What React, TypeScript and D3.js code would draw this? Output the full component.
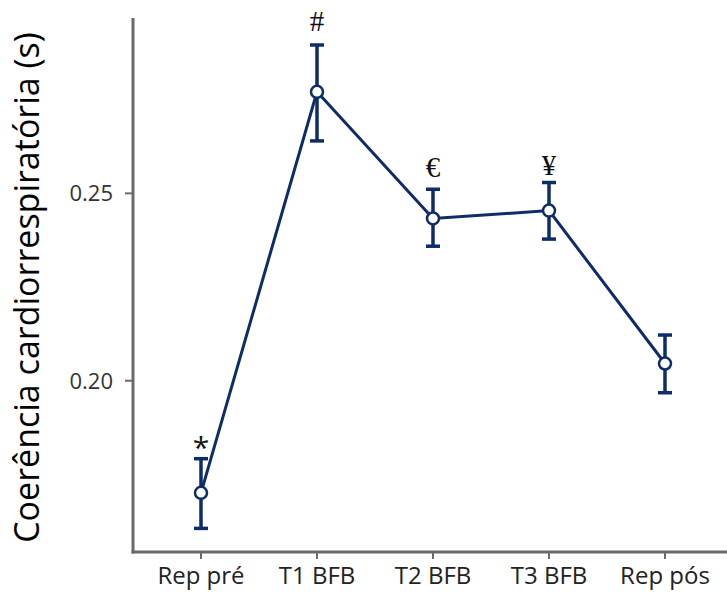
import React from 'react';
import * as d3 from 'd3';

// values
const categories = ['Rep pré', 'T1 BFB', 'T2 BFB', 'T3 BFB', 'Rep pós'];
const means = [0.1701, 0.2771, 0.2433, 0.2454, 0.2046];
const errHigh = [0.1792, 0.2896, 0.2511, 0.2529, 0.2122];
const errLow = [0.1606, 0.264, 0.2359, 0.2378, 0.1968];
const markers = ['*', '#', '€', '¥', ''];
const yTicks = [0.2, 0.25];

const width = 727;
const height = 592;
const axisX = 133;
const axisY = 552;
const navy = '#0f2c6a';
const axisColor = '#6a6a6a';

// gap between the top of the error bar and the marker baseline
const markerGap: Record<string, number> = { '*': 1, '#': 14, '€': 12, '¥': 8 };

const App: React.FC = () => {
  const x = d3.scalePoint<string>().domain(categories).range([201, 665]);
  const y = d3.scaleLinear().domain([0.1543, 0.2968]).range([axisY, 18]);
  const fmt = d3.format('.2f');

  const line = d3
    .line<number>()
    .x((_, i) => x(categories[i]) as number)
    .y(d => y(d));

  return (
    <svg
      width={width}
      height={height}
      style={{ position: 'absolute', left: 0, top: 0, background: '#fff' }}
    >
      {/* axes */}
      <line x1={axisX} x2={axisX} y1={y.range()[1]} y2={axisY + 1.5} stroke={axisColor} strokeWidth={3} />
      <line x1={axisX - 1.5} x2={width} y1={axisY} y2={axisY} stroke={axisColor} strokeWidth={3} />

      {yTicks.map(t => (
        <g key={t}>
          <line x1={axisX - 8} x2={axisX} y1={y(t)} y2={y(t)} stroke={axisColor} strokeWidth={2} />
          <text
            x={113}
            y={y(t)}
            dy="0.36em"
            textAnchor="end"
            fontFamily="Open Sans"
            fontSize={22}
            fill="#333"
          >
            {fmt(t)}
          </text>
        </g>
      ))}

      {categories.map(c => (
        <g key={c}>
          <line x1={x(c)} x2={x(c)} y1={axisY} y2={axisY + 7} stroke={axisColor} strokeWidth={2} />
          <text
            x={x(c)}
            y={584}
            textAnchor="middle"
            fontFamily="Open Sans"
            fontSize={24}
            fill="#222"
          >
            {c}
          </text>
        </g>
      ))}

      <text
        transform={`translate(39, ${(537 + 38) / 2}) rotate(-90)`}
        textAnchor="middle"
        fontFamily="Open Sans"
        fontSize={34}
        fill="#000"
      >
        Coerência cardiorrespiratória (s)
      </text>

      {/* error bars */}
      {categories.map((c, i) => {
        const cx = x(c) as number;
        return (
          <g key={'e' + c} stroke={navy} strokeWidth={3.5}>
            <line x1={cx} x2={cx} y1={y(errHigh[i])} y2={y(errLow[i])} />
            <line x1={cx - 7} x2={cx + 7} y1={y(errHigh[i])} y2={y(errHigh[i])} />
            <line x1={cx - 7} x2={cx + 7} y1={y(errLow[i])} y2={y(errLow[i])} />
          </g>
        );
      })}

      <path d={line(means) ?? ''} fill="none" stroke={navy} strokeWidth={3} />

      {categories.map((c, i) => (
        <circle key={'p' + c} cx={x(c)} cy={y(means[i])} r={6} fill="#fff" stroke={navy} strokeWidth={2.5} />
      ))}

      {/* significance markers */}
      {categories.map((c, i) =>
        markers[i] ? (
          <text
            key={'m' + c}
            x={x(c)}
            y={y(errHigh[i]) - markerGap[markers[i]]}
            textAnchor="middle"
            fontFamily={markers[i] === '*' ? 'Open Sans' : 'Liberation Serif'}
            fontSize={markers[i] === '*' ? 30 : 29}
            fill="#111"
          >
            {markers[i]}
          </text>
        ) : null
      )}
    </svg>
  );
};

export default App;
